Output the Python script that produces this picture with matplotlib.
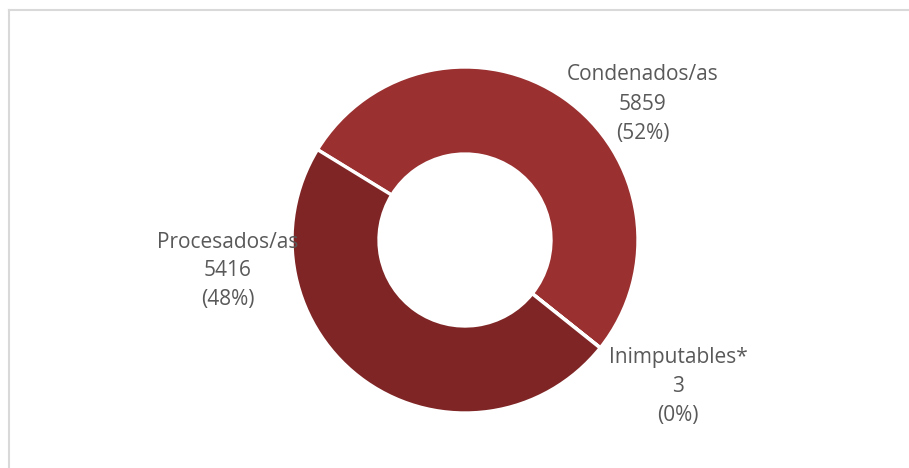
import matplotlib
matplotlib.use("Agg")
import matplotlib.pyplot as plt
from matplotlib.lines import Line2D

# Data
categories = ["Condenados/as", "Inimputables*", "Procesados/as"]
counts = [5859, 3, 5416]
colors = ["#9A3030", "#9A3030", "#7F2525"]

# Label placement (pixel layout, y measured from the top)
label_pos = {
    "Condenados/as": (643, 104),
    "Inimputables*": (678, 386),
    "Procesados/as": (228, 271),
}

W, H = 909, 468
TEXT_COLOR = "#595959"
plt.rcParams["font.family"] = ["Open Sans", "DejaVu Sans"]

fig = plt.figure(figsize=(W / 100, H / 100), dpi=100)
ax = fig.add_axes([0, 0, 1, 1])

total = sum(counts)
ax.pie(
    counts,
    colors=colors,
    startangle=148.5,
    counterclock=False,
    center=(465, H - 240),
    radius=173,
    frame=True,
    wedgeprops={"width": 87, "edgecolor": "white", "linewidth": 2.4},
)
ax.set_xlim(0, W)
ax.set_ylim(0, H)
ax.axis("off")

for name, val in zip(categories, counts):
    pct = round(100 * val / total)
    x, y = label_pos[name]
    ax.text(x, H - y, f"{name}\n{val}\n({pct}%)", ha="center", va="center",
            fontsize=15, color=TEXT_COLOR, linespacing=1.5, zorder=5)

# Chart frame (top and left edges visible)
fig.add_artist(Line2D([8.5 / W, 1], [1 - 9.5 / H, 1 - 9.5 / H],
                      transform=fig.transFigure, color="#D9D9D9", lw=1.5))
fig.add_artist(Line2D([8.5 / W, 8.5 / W], [0, 1 - 9.5 / H],
                      transform=fig.transFigure, color="#D9D9D9", lw=1.5))

fig.savefig("out.png", dpi=100, facecolor="white")
